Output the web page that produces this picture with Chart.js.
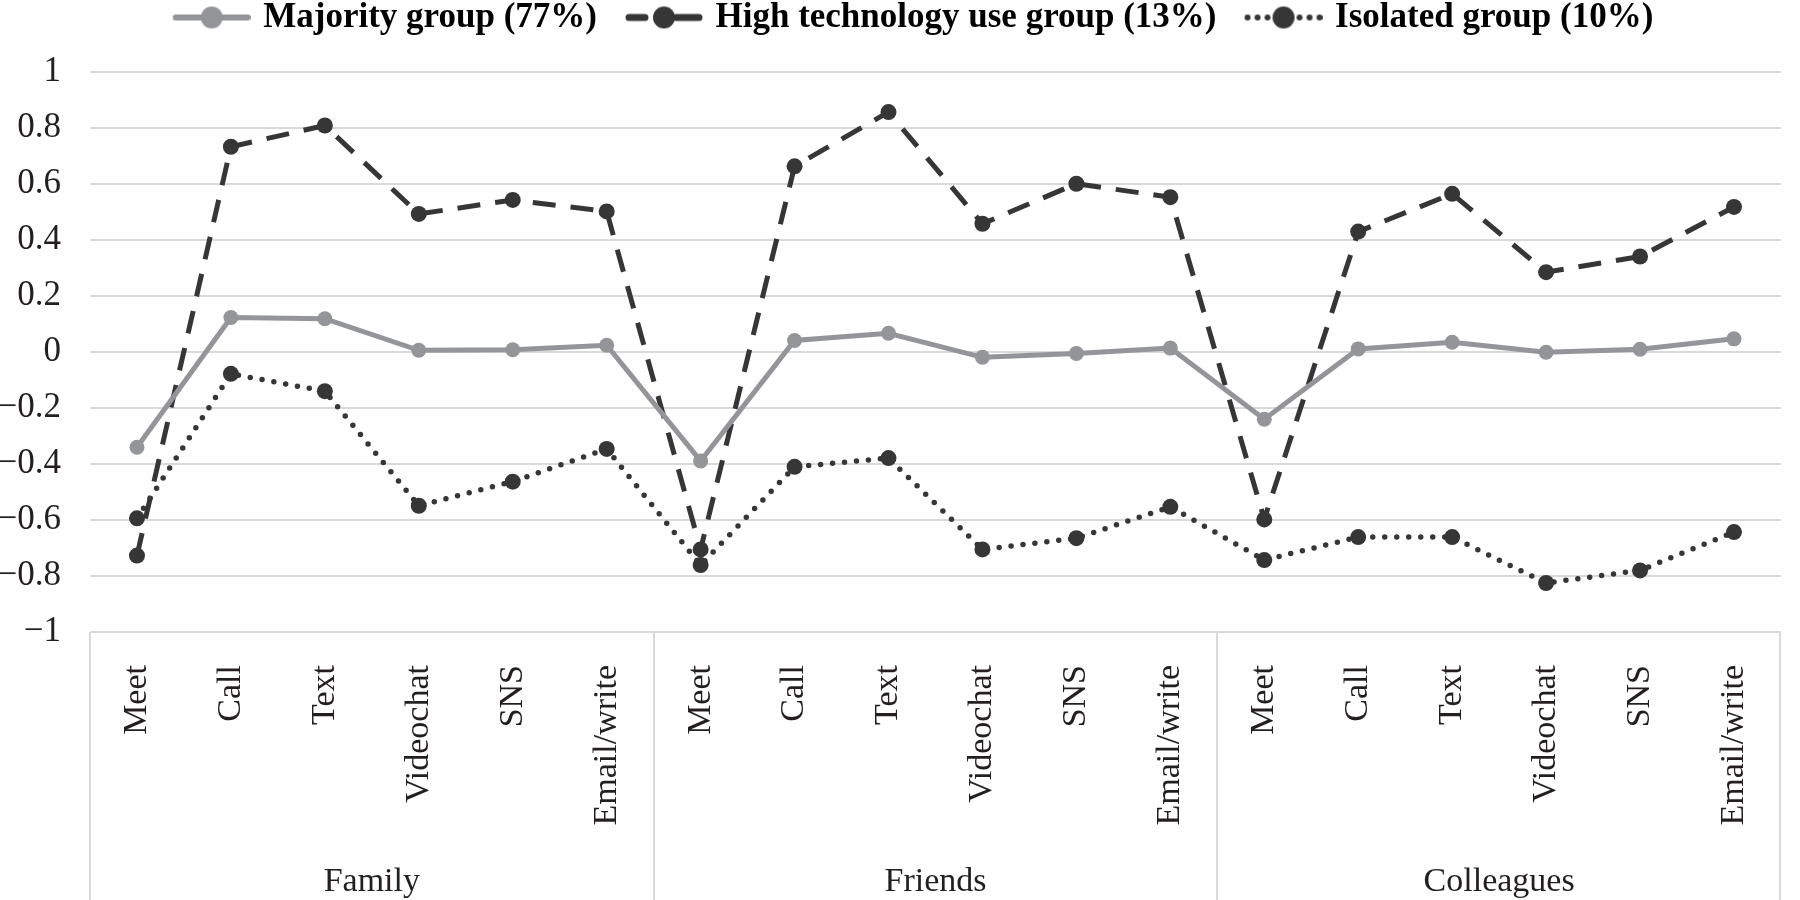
<!DOCTYPE html>
<html>
<head>
<meta charset="utf-8">
<script src="https://cdn.jsdelivr.net/npm/chart.js@4.4.1/dist/chart.umd.min.js"></script>
<style>
  html, body { margin: 0; padding: 0; background: #fff; }
</style>
</head>
<body>
<canvas id="chart" width="1800" height="900"></canvas>
<script>
const GROUPS = ['Family', 'Friends', 'Colleagues'];
const CHANNELS = ['Meet', 'Call', 'Text', 'Videochat', 'SNS', 'Email/write'];
const SERIES_NAMES = ['Majority group (77%)', 'High technology use group (13%)', 'Isolated group (10%)'];

// Family x6, Friends x6, Colleagues x6
const majority = [-0.34, 0.123, 0.119, 0.006, 0.008, 0.024, -0.389, 0.041, 0.067, -0.019, -0.005, 0.014, -0.24, 0.011, 0.035, -0.001, 0.01, 0.047];
const highTech = [-0.727, 0.733, 0.809, 0.493, 0.543, 0.502, -0.705, 0.663, 0.857, 0.458, 0.601, 0.553, -0.598, 0.43, 0.565, 0.285, 0.341, 0.518];
const isolated = [-0.594, -0.078, -0.14, -0.549, -0.463, -0.346, -0.761, -0.41, -0.379, -0.705, -0.665, -0.553, -0.743, -0.661, -0.661, -0.825, -0.78, -0.643];

const Y_MIN = -1;
const Y_MAX = 1;
const Y_STEP = 0.2;

const TEXT = '#231f20';
const GRID = '#d9d9d9';
const GRAY = '#939598';
const DARK = '#363636';
const FONT = "'Liberation Serif', 'Times New Roman', serif";
const LEGEND_HEIGHT = 72;

const labels = [];
GROUPS.forEach(() => CHANNELS.forEach((c) => labels.push(c)));

// legend marks: blank lead-in on the left acts as the gap between items
const SYM_LEAD = 33;
const SYM_W = 78;
function legendSymbol(kind, color) {
  const c = document.createElement('canvas');
  c.width = SYM_LEAD + SYM_W;
  c.height = 26;
  const g = c.getContext('2d');
  const x0 = SYM_LEAD;
  const cx = x0 + SYM_W / 2;
  g.strokeStyle = color;
  g.fillStyle = color;
  if (kind === 'solid') {
    g.lineWidth = 6;
    g.lineCap = 'round';
    g.beginPath();
    g.moveTo(x0 + 3, 13);
    g.lineTo(x0 + SYM_W - 3, 13);
    g.stroke();
  } else if (kind === 'dash') {
    g.lineWidth = 7;
    g.lineCap = 'round';
    g.beginPath();
    g.moveTo(x0 + 4, 13);
    g.lineTo(x0 + 20, 13);
    g.moveTo(cx + 12, 13);
    g.lineTo(x0 + SYM_W - 4, 13);
    g.stroke();
  } else {
    [x0 + 3, x0 + 13, x0 + 23, cx + 16, cx + 26, cx + 36].forEach((dx) => {
      g.beginPath();
      g.arc(dx, 13, 3, 0, Math.PI * 2);
      g.fill();
    });
  }
  g.beginPath();
  g.arc(cx, 13, 11, 0, Math.PI * 2);
  g.fill();
  return c;
}

const symbols = [
  legendSymbol('solid', GRAY),
  legendSymbol('dash', DARK),
  legendSymbol('dot', DARK),
];

// gives the legend a fixed band so the plot starts where the reference does
const legendSpace = {
  id: 'legendSpace',
  beforeLayout(chart) {
    const legend = chart.legend;
    if (!legend || legend._spaced) return;
    const fit = legend.fit;
    legend.fit = function () {
      fit.call(this);
      this.height = LEGEND_HEIGHT;
    };
    legend._spaced = true;
  },
};

// box lines round the two-level category axis
const groupBoxPlugin = {
  id: 'groupBox',
  afterDraw(chart) {
    const { ctx, chartArea } = chart;
    const x = chart.scales.x;
    ctx.save();
    ctx.strokeStyle = GRID;
    ctx.lineWidth = 2;
    ctx.beginPath();
    for (let i = 0; i <= GROUPS.length; i++) {
      let px = Math.round(x.getPixelForValue(i * CHANNELS.length - 0.5));
      if (i === GROUPS.length) px -= 1;
      ctx.moveTo(px, chartArea.bottom);
      ctx.lineTo(px, chart.height);
    }
    ctx.stroke();
    ctx.restore();
  },
};

function fmtTick(v) {
  const r = Math.round(v * 10) / 10;
  if (r === 0) return '0';
  return (r < 0 ? '\u2212' : '') + String(Math.abs(r));
}

new Chart(document.getElementById('chart'), {
  type: 'line',
  data: {
    labels,
    datasets: [
      {
        label: SERIES_NAMES[0],
        data: majority,
        borderColor: GRAY,
        backgroundColor: GRAY,
        borderWidth: 5,
        pointRadius: 7.5,
        pointBorderWidth: 0,
        tension: 0,
      },
      {
        label: SERIES_NAMES[1],
        data: highTech,
        borderColor: DARK,
        backgroundColor: DARK,
        borderWidth: 5,
        borderDash: [23, 15],
        pointRadius: 8,
        pointBorderWidth: 0,
        tension: 0,
      },
      {
        label: SERIES_NAMES[2],
        data: isolated,
        borderColor: DARK,
        backgroundColor: DARK,
        borderWidth: 5.5,
        borderDash: [0, 12],
        borderCapStyle: 'round',
        pointRadius: 8,
        pointBorderWidth: 0,
        tension: 0,
      },
    ],
  },
  options: {
    responsive: false,
    animation: false,
    devicePixelRatio: 1,
    layout: { padding: { top: 0, right: 2, bottom: 0, left: 0 } },
    plugins: {
      tooltip: { enabled: false },
      legend: {
        position: 'top',
        align: 'center',
        labels: {
          color: TEXT,
          font: { family: FONT, size: 35, weight: 'bold' },
          usePointStyle: true,
          pointStyleWidth: SYM_LEAD + SYM_W - 10,
          padding: 0,
          generateLabels: () => SERIES_NAMES.map((name, i) => ({
            text: name,
            pointStyle: symbols[i],
            fillStyle: i === 0 ? GRAY : DARK,
            strokeStyle: i === 0 ? GRAY : DARK,
            lineWidth: 0,
            hidden: false,
            datasetIndex: i,
          })),
        },
      },
    },
    scales: {
      y: {
        min: Y_MIN,
        max: Y_MAX,
        ticks: {
          stepSize: Y_STEP,
          color: TEXT,
          font: { family: FONT, size: 35 },
          padding: 29,
          callback: (v) => fmtTick(v),
        },
        grid: { color: GRID, lineWidth: 2, drawTicks: false },
        border: { display: false },
        afterFit: (s) => { s.width = 90; },
      },
      x: {
        type: 'category',
        offset: true,
        grid: { display: false },
        border: { display: false },
        ticks: {
          color: TEXT,
          font: { family: FONT, size: 34 },
          minRotation: 90,
          maxRotation: 90,
          autoSkip: false,
          padding: 25,
        },
        afterFit: (s) => { s.height = 198; },
      },
      x2: {
        type: 'category',
        labels: GROUPS,
        position: 'bottom',
        offset: true,
        weight: 1,
        grid: { display: false },
        border: { display: false },
        ticks: {
          color: TEXT,
          font: { family: FONT, size: 34 },
          padding: 24,
        },
        afterFit: (s) => { s.height = 70; },
      },
    },
  },
  plugins: [legendSpace, groupBoxPlugin],
});
</script>
</body>
</html>
